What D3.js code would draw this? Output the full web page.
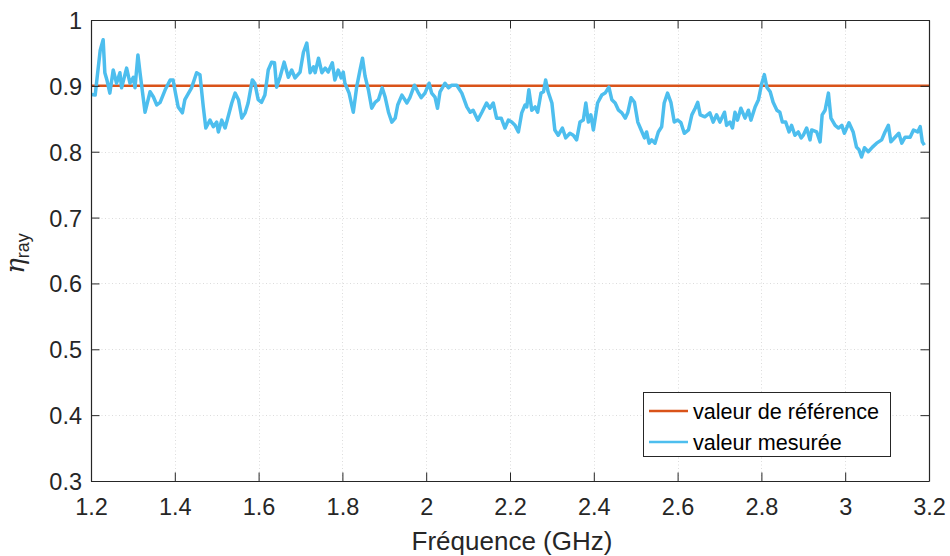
<!DOCTYPE html>
<html>
<head>
<meta charset="utf-8">
<script src="https://cdn.jsdelivr.net/npm/d3@7"></script>
<style>
  html, body { margin: 0; padding: 0; background: #fff; }
  svg { display: block; font-family: "Liberation Sans", Arial, Helvetica, sans-serif; }
</style>
</head>
<body>
<svg id="chart" width="950" height="556"></svg>
<script>
// ---- data ----
const xTicks = [1.2, 1.4, 1.6, 1.8, 2, 2.2, 2.4, 2.6, 2.8, 3, 3.2];
const xTickLabels = ["1.2", "1.4", "1.6", "1.8", "2", "2.2", "2.4", "2.6", "2.8", "3", "3.2"];
const yTicks = [0.3, 0.4, 0.5, 0.6, 0.7, 0.8, 0.9, 1];
const yTickLabels = ["0.3", "0.4", "0.5", "0.6", "0.7", "0.8", "0.9", "1"];

const refFreq = [1.2, 3.2];
const refValue = [0.9, 0.9];

const measFreq = [1.202,1.210,1.214,1.222,1.229,1.233,1.238,1.245,1.253,1.261,1.269,1.273,1.285,1.293,1.301,1.305,1.312,1.317,1.329,1.341,1.349,1.357,1.365,1.377,1.389,1.396,1.401,1.408,1.418,1.424,1.440,1.452,1.460,1.468,1.474,1.484,1.492,1.500,1.504,1.512,1.520,1.526,1.536,1.544,1.552,1.560,1.568,1.575,1.585,1.591,1.599,1.607,1.615,1.623,1.631,1.638,1.643,1.651,1.661,1.671,1.679,1.687,1.699,1.707,1.715,1.723,1.731,1.735,1.743,1.751,1.759,1.766,1.776,1.782,1.790,1.797,1.802,1.806,1.816,1.826,1.834,1.842,1.848,1.854,1.862,1.870,1.878,1.886,1.895,1.902,1.910,1.918,1.926,1.932,1.942,1.954,1.961,1.972,1.980,1.988,1.997,2.007,2.013,2.021,2.027,2.033,2.045,2.053,2.061,2.073,2.085,2.097,2.105,2.112,2.123,2.133,2.144,2.152,2.160,2.168,2.179,2.188,2.196,2.204,2.212,2.220,2.228,2.236,2.240,2.245,2.252,2.260,2.266,2.274,2.280,2.285,2.291,2.300,2.307,2.315,2.325,2.333,2.343,2.351,2.359,2.367,2.375,2.381,2.387,2.393,2.399,2.409,2.419,2.427,2.436,2.443,2.451,2.459,2.467,2.475,2.481,2.489,2.497,2.505,2.513,2.521,2.526,2.532,2.538,2.546,2.554,2.562,2.568,2.576,2.584,2.592,2.600,2.608,2.616,2.626,2.634,2.642,2.648,2.654,2.665,2.677,2.685,2.693,2.701,2.712,2.717,2.725,2.731,2.737,2.743,2.751,2.761,2.769,2.775,2.785,2.793,2.801,2.807,2.813,2.821,2.828,2.837,2.844,2.850,2.858,2.866,2.872,2.880,2.888,2.895,2.900,2.908,2.916,2.920,2.932,2.940,2.945,2.952,2.960,2.966,2.976,2.984,2.992,2.998,3.009,3.019,3.027,3.033,3.039,3.046,3.055,3.065,3.075,3.087,3.095,3.103,3.109,3.119,3.128,3.135,3.143,3.155,3.163,3.173,3.179,3.184,3.189];
const measValue = [0.887,0.886,0.909,0.954,0.970,0.920,0.909,0.889,0.924,0.904,0.920,0.897,0.927,0.904,0.913,0.897,0.947,0.920,0.860,0.891,0.883,0.871,0.875,0.894,0.909,0.909,0.891,0.868,0.859,0.879,0.897,0.920,0.917,0.868,0.836,0.848,0.838,0.845,0.830,0.848,0.836,0.850,0.874,0.889,0.879,0.851,0.859,0.874,0.909,0.904,0.879,0.875,0.886,0.924,0.936,0.935,0.898,0.913,0.936,0.913,0.924,0.912,0.921,0.951,0.965,0.920,0.929,0.920,0.942,0.920,0.927,0.921,0.935,0.909,0.924,0.912,0.921,0.904,0.889,0.860,0.898,0.924,0.942,0.915,0.894,0.866,0.875,0.879,0.897,0.883,0.860,0.845,0.851,0.871,0.886,0.874,0.882,0.901,0.891,0.882,0.889,0.904,0.889,0.883,0.866,0.891,0.904,0.897,0.901,0.901,0.889,0.868,0.860,0.863,0.848,0.860,0.874,0.866,0.874,0.851,0.851,0.836,0.848,0.845,0.840,0.830,0.859,0.871,0.868,0.894,0.863,0.868,0.860,0.889,0.891,0.909,0.891,0.874,0.833,0.825,0.836,0.821,0.828,0.825,0.818,0.845,0.848,0.874,0.845,0.856,0.833,0.874,0.886,0.889,0.898,0.879,0.874,0.863,0.859,0.851,0.859,0.882,0.875,0.845,0.833,0.821,0.830,0.813,0.818,0.813,0.830,0.838,0.874,0.889,0.875,0.845,0.848,0.844,0.828,0.833,0.856,0.866,0.875,0.856,0.853,0.859,0.845,0.856,0.845,0.860,0.840,0.845,0.836,0.860,0.848,0.866,0.851,0.863,0.848,0.868,0.879,0.904,0.917,0.898,0.891,0.875,0.863,0.860,0.845,0.845,0.830,0.840,0.825,0.830,0.821,0.825,0.836,0.818,0.833,0.830,0.815,0.856,0.863,0.889,0.851,0.840,0.836,0.840,0.828,0.844,0.830,0.807,0.803,0.792,0.806,0.800,0.807,0.813,0.818,0.830,0.840,0.815,0.822,0.828,0.813,0.822,0.822,0.833,0.830,0.838,0.815,0.810];

const seriesNames = ["valeur de référence", "valeur mesurée"];
const seriesColors = ["#D95319", "#4DBEEE"];

// ---- layout ----
const W = 950, H = 556;
const L = 91, R = 929, T = 20, B = 481;
const axisColor = "#262626";
const tickLen = 8.5;

const svg = d3.select("#chart");
const x = d3.scaleLinear().domain([1.2, 3.2]).range([L, R]);
const y = d3.scaleLinear().domain([0.3, 1]).range([B, T]);

// grid
const grid = svg.append("g");
grid.selectAll("line.gx").data(xTicks.slice(1, -1)).join("line")
  .attr("x1", d => Math.round(x(d)) + 0.5).attr("x2", d => Math.round(x(d)) + 0.5)
  .attr("y1", T).attr("y2", B)
  .attr("stroke", "#dcdcdc").attr("stroke-width", 1).attr("stroke-dasharray", "1,2.5");
grid.selectAll("line.gy").data(yTicks.slice(1, -1)).join("line")
  .attr("y1", d => Math.round(y(d)) + 0.5).attr("y2", d => Math.round(y(d)) + 0.5)
  .attr("x1", L).attr("x2", R)
  .attr("stroke", "#dcdcdc").attr("stroke-width", 1).attr("stroke-dasharray", "1,2.5");

// lines
const line = d3.line().x(d => x(d[0])).y(d => y(d[1]));
const refData = refFreq.map((f, i) => [f, refValue[i]]);
const measData = measFreq.map((f, i) => [f, measValue[i]]);

svg.append("path").datum(refData).attr("d", line)
  .attr("fill", "none").attr("stroke", seriesColors[0]).attr("stroke-width", 2.5);
svg.append("path").datum(measData).attr("d", line)
  .attr("fill", "none").attr("stroke", seriesColors[1]).attr("stroke-width", 3.5)
  .attr("stroke-linejoin", "round");

// axes (box with ticks on all sides)
const fmtX = (d, i) => xTickLabels[i];
const fmtY = (d, i) => yTickLabels[i];

const gBottom = svg.append("g").attr("transform", `translate(0,${B})`)
  .call(d3.axisBottom(x).tickValues(xTicks).tickFormat(fmtX).tickSizeInner(-tickLen).tickSizeOuter(0).tickPadding(17));
const gLeft = svg.append("g").attr("transform", `translate(${L},0)`)
  .call(d3.axisLeft(y).tickValues(yTicks).tickFormat(fmtY).tickSizeInner(-tickLen).tickSizeOuter(0).tickPadding(17));
const gTop = svg.append("g").attr("transform", `translate(0,${T})`)
  .call(d3.axisTop(x).tickValues(xTicks).tickFormat("").tickSizeInner(-tickLen).tickSizeOuter(0));
const gRight = svg.append("g").attr("transform", `translate(${R},0)`)
  .call(d3.axisRight(y).tickValues(yTicks).tickFormat("").tickSizeInner(-tickLen).tickSizeOuter(0));

[gBottom, gLeft, gTop, gRight].forEach(g => {
  g.select(".domain").attr("stroke", axisColor).attr("stroke-width", 1.2);
  g.selectAll(".tick line").attr("stroke", axisColor).attr("stroke-width", 1);
  g.selectAll(".tick text").attr("fill", axisColor)
    .attr("font-family", "'Liberation Sans', Arial, Helvetica, sans-serif")
    .attr("font-size", 23.5);
});
gLeft.selectAll(".tick text").attr("dy", "0.36em").attr("x", -9);
gBottom.selectAll(".tick text").attr("dy", 0).attr("y", 34);

// axis labels
svg.append("text")
  .attr("x", (L + R) / 2 + 2).attr("y", 550)
  .attr("text-anchor", "middle")
  .attr("fill", axisColor)
  .attr("font-size", 26)
  .text("Fréquence (GHz)");

const yl = svg.append("text")
  .attr("transform", "translate(23.5,253.5) rotate(-90)")
  .attr("text-anchor", "middle")
  .attr("fill", axisColor);
yl.append("tspan").attr("font-size", 26).attr("font-style", "italic")
  .attr("font-family", "'DejaVu Serif', 'Liberation Serif', serif").text("η");
yl.append("tspan").attr("font-size", 18).attr("dy", 5).text("ray");

// legend
const lg = svg.append("g");
lg.append("rect").attr("x", 643.5).attr("y", 392.5).attr("width", 247).attr("height", 64)
  .attr("fill", "#fff").attr("stroke", axisColor).attr("stroke-width", 1);
const rowsY = [411, 442];
seriesNames.forEach((name, i) => {
  lg.append("line").attr("x1", 649).attr("x2", 688).attr("y1", rowsY[i]).attr("y2", rowsY[i])
    .attr("stroke", seriesColors[i]).attr("stroke-width", 2.5);
  lg.append("text").attr("x", 693).attr("y", rowsY[i] + 8)
    .attr("font-size", 21.6).attr("fill", "#000").text(name);
});
</script>
</body>
</html>
